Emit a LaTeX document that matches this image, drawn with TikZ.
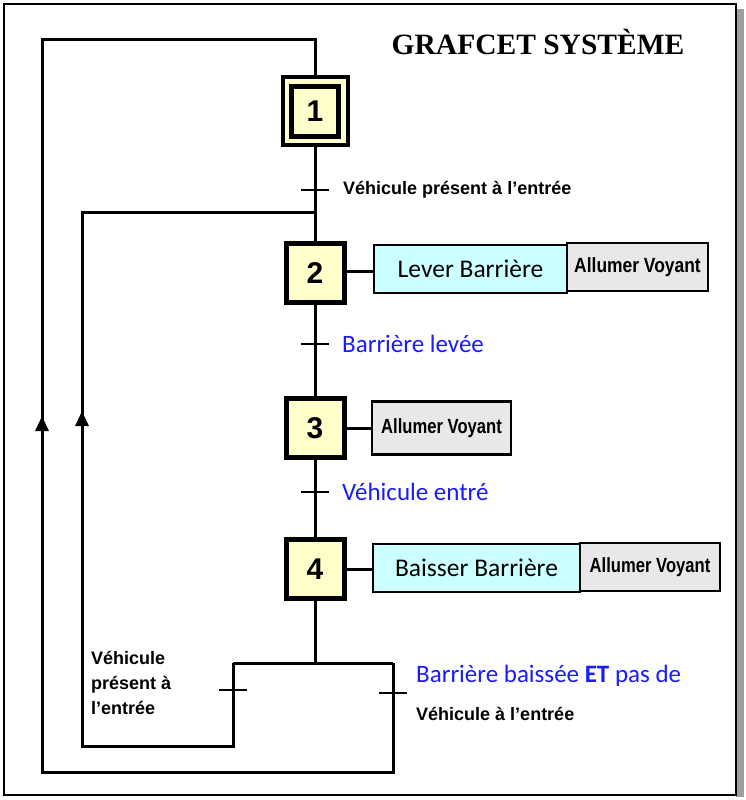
\documentclass[tikz,border=0pt]{standalone}
\usepackage{fontspec}
\setmainfont{Liberation Sans}
\newfontfamily\calfont{Carlito}
\newfontfamily\titlefont{Liberation Serif}
\usetikzlibrary{arrows.meta}
\definecolor{stepyellow}{HTML}{FFFFCC}
\definecolor{actcyan}{HTML}{CCFFFF}
\definecolor{actgrey}{HTML}{E8E8E8}
\definecolor{bluetxt}{HTML}{1A1AFF}
\begin{document}
\begin{tikzpicture}[x=1pt,y=-1pt,
  wire/.style={line width=3pt},
  stepbox/.style={draw,fill=stepyellow,line width=5pt,minimum width=58pt,minimum height=59pt,inner sep=0pt,
     font=\fontsize{30}{32}\selectfont\bfseries},
  actcy/.style={draw,fill=actcyan,line width=2.2pt,minimum height=48pt,inner sep=0pt,
     font=\calfont\fontsize{25.5}{27}\selectfont},
  actgr/.style={draw,fill=actgrey,line width=2.2pt,minimum height=48pt,inner sep=0pt,
     font=\fontsize{20.5}{22}\selectfont\bfseries},
  tick/.style={line width=2.3pt},
  bluelab/.style={anchor=west,inner sep=0pt,text=bluetxt,font=\calfont\fontsize{25}{27}\selectfont},
  blacklab/.style={anchor=west,inner sep=0pt,font=\fontsize{18}{20}\selectfont\bfseries},
  uparrow/.style={-{Triangle[length=15pt,width=13pt]},line width=3pt}
]
\useasboundingbox (0,0) rectangle (746,800);
% frame and shadow
\fill[gray!75] (736,9) rectangle (744,797);
\draw[line width=2pt,fill=white] (4,4) rectangle (736,795);
% title
\node[inner sep=0pt,font=\titlefont\fontsize{29.5}{31}\selectfont\bfseries] (title) at (538,42) {GRAFCET SYSTÈME};
% step 1 (initial, double square)
\node[draw,fill=stepyellow,line width=4pt,minimum width=65pt,minimum height=68pt,inner sep=0pt] (s1o) at (315,111) {};
\node[draw,fill=stepyellow,line width=5pt,minimum width=47pt,minimum height=50pt,inner sep=0pt,
      font=\fontsize{30}{32}\selectfont\bfseries] (s1) at (315,111) {1};
% steps 2-4
\node[stepbox] (s2) at (315,273) {2};
\node[stepbox] (s3) at (315,428) {3};
\node[stepbox] (s4) at (315,569) {4};
% actions
\node[actcy,minimum width=193pt] (a2l) at (470.5,269) {Lever Barrière};
\node[actgr,minimum width=141pt] (a2r) at (637.5,267) {\scalebox{0.85}[1]{Allumer Voyant}};
\node[actgr,minimum width=139pt,minimum height=53pt] (a3) at (441.5,428) {\scalebox{0.81}[1]{Allumer Voyant}};
\node[actcy,minimum width=207pt] (a4l) at (476.5,568) {Baisser Barrière};
\node[actgr,minimum width=140pt] (a4r) at (650,567) {\scalebox{0.81}[1]{Allumer Voyant}};
\draw[wire] (s2.east |- 0,271) -- (a2l.west |- 0,271);
\draw[wire] (s3.east) -- (a3.west);
\draw[wire] (s4.east |- 0,569) -- (a4l.west |- 0,569);
% transition coordinates
\coordinate (t1) at (315,190);
\coordinate (t2) at (315,344);
\coordinate (t3) at (315,492);
\coordinate (j1) at (315,212);
\coordinate (d) at (315,663);
\coordinate (dl) at (233,663);
\coordinate (dr) at (393,663);
\coordinate (tl) at (233,690);
\coordinate (tr) at (393,693);
\coordinate (bl1) at (233,746);
\coordinate (bl2) at (82,746);
\coordinate (ul) at (82,212);
\coordinate (br1) at (393,772);
\coordinate (br2) at (42,772);
\coordinate (ur) at (42,40);
\coordinate (ut) at (315,40);
% main line
\draw[wire] (s1o) -- (s2);
\draw[wire] (s2) -- (s3);
\draw[wire] (s3) -- (s4);
\draw[wire] (s4) -- (d);
\draw[wire] (dl) -- (dr);
% loops
\draw[wire] (dl) -- (bl1) -- (bl2) -- (ul) -- (j1);
\draw[wire] (dr) -- (br1) -- (br2) -- (ur) -- (ut) -- (s1o.north);
\draw[uparrow] (82,445) -- (82,411);
\draw[uparrow] (42,450) -- (42,416);
% transition ticks
\draw[tick] ([xshift=-14pt]t1) -- ([xshift=14pt]t1);
\draw[tick] ([xshift=-14pt]t2) -- ([xshift=14pt]t2);
\draw[tick] ([xshift=-14pt]t3) -- ([xshift=14pt]t3);
\draw[tick] ([xshift=-14pt]tl) -- ([xshift=14pt]tl);
\draw[tick] ([xshift=-14pt]tr) -- ([xshift=14pt]tr);
% receptivity labels
\node[blacklab] (r1) at (343,190) {Véhicule présent à l’entrée};
\node[bluelab] (r2) at (342,344) {Barrière levée};
\node[bluelab] (r3) at (342,492) {Véhicule entré};
\node[bluelab] (r4) at (416,676) {Barrière baissée \textbf{ET} pas de};
\node[blacklab] (r4b) at (416,714) {Véhicule à l’entrée};
\node[anchor=north west,inner sep=0pt,align=left,font=\fontsize{18}{25}\selectfont\bfseries] (r5) at (91,651) {Véhicule\\présent à\\l’entrée};
\end{tikzpicture}
\end{document}
